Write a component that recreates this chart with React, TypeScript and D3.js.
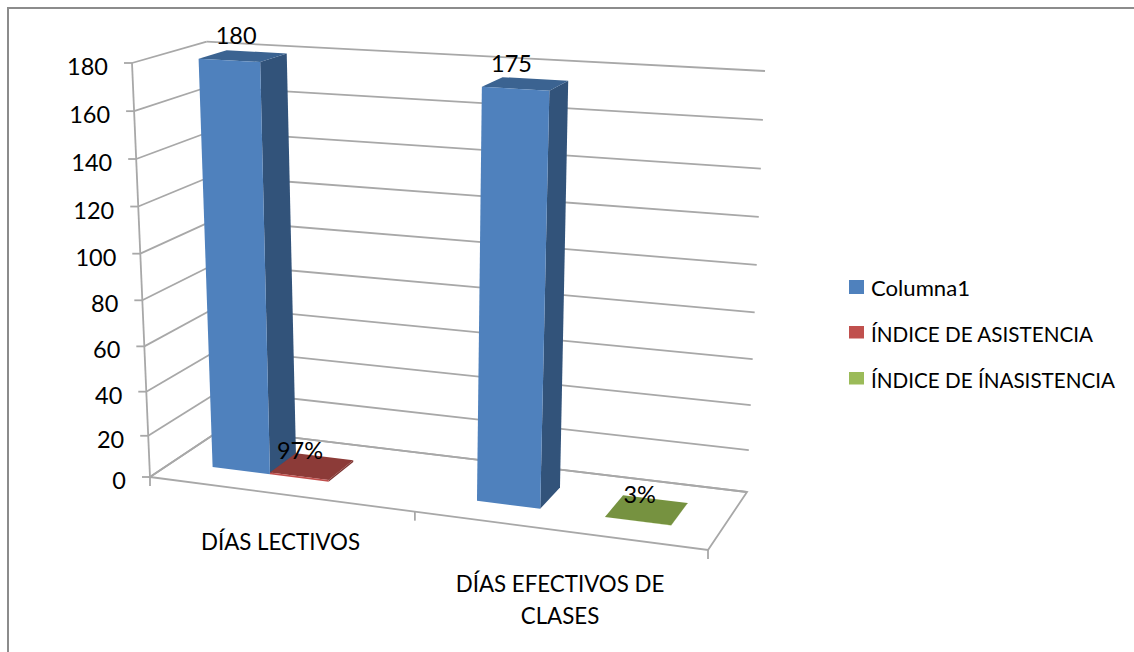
import React from "react";
import * as d3 from "d3";

const categories = ["DÍAS LECTIVOS", "DÍAS EFECTIVOS DE CLASES"];
const seriesNames = ["Columna1", "ÍNDICE DE ASISTENCIA", "ÍNDICE DE ÍNASISTENCIA"];
const columna1 = [180, 175];
const asistencia = [0.97, null];
const inasistencia = [null, 0.03];
const valueLabels = [["180", "97%", null], ["175", null, "3%"]];
const yTicks = d3.range(0, 181, 20);

type P = [number, number];
// corners of the plot box: front-left, front-right, back-right, back-left
const floorQuad: P[] = [[150, 477], [708, 550], [747, 492], [222, 429]];
const topQuad: P[] = [[132, 63], [731, 97], [765, 71], [206.7, 41.7]];

function homography(q: P[]) {
  const [[x0, y0], [x1, y1], [x2, y2], [x3, y3]] = q;
  const dx1 = x1 - x2, dx2 = x3 - x2, sx = x0 - x1 + x2 - x3;
  const dy1 = y1 - y2, dy2 = y3 - y2, sy = y0 - y1 + y2 - y3;
  const den = dx1 * dy2 - dx2 * dy1;
  const g = (sx * dy2 - dx2 * sy) / den;
  const h = (dx1 * sy - sx * dy1) / den;
  const a = x1 - x0 + g * x1, b = x3 - x0 + h * x3;
  const d = y1 - y0 + g * y1, e = y3 - y0 + h * y3;
  return (u: number, v: number): P => {
    const w = g * u + h * v + 1;
    return [(a * u + b * v + x0) / w, (d * u + e * v + y0) / w];
  };
}
const floorH = homography(floorQuad);
const topH = homography(topQuad);
const vScale = d3.scalePow().exponent(1.05).domain([0, 180]).range([0, 1]);
const project = (u: number, d: number, v: number): P => {
  const a = floorH(u, d), b = topH(u, d), t = vScale(v);
  return [a[0] + (b[0] - a[0]) * t, a[1] + (b[1] - a[1]) * t];
};

const catScale = d3.scaleBand<number>().domain([0, 1]).range([0, 1]);
const serScale = d3.scaleBand<number>().domain([0, 1, 2]).range([0.08, 0.418]);
const depthFront = 0.3, depthBack = 0.69;

const poly = (pts: P[]) => (d3.line()(pts) as string) + "Z";
const seg = (a: P, b: P) => d3.line()([a, b]) as string;

const colors = { front: ["#4F81BD", "#C0504D", "#9BBB59"], side: ["#31527A", "#7D3431", "#647A39"], top: ["#3A6391", "#8C3A37", "#76923F"] };
const values = [columna1, asistencia, inasistencia];
const grid = "#A8A8A8";
const font = "Lato, Carlito, sans-serif";
const legendWidths = [99, 222, 244];
const labelDx = [[-7, -12, 0], [-14, 0, -7]];

export default function App() {
  const bars: any[] = [];
  categories.forEach((_, ci) => {
    values.forEach((vals, si) => {
      const val = vals[ci];
      if (val == null) return;
      const u0 = catScale(ci)! + serScale(si)!;
      const u1 = u0 + serScale.bandwidth();
      bars.push({ ci, si, val, u0, u1 });
    });
  });
  return (
    <svg width={1134} height={652} style={{ position: "absolute", left: 0, top: 0, background: "#fff" }}>
      <defs>
        <filter id="soft" x="-5%" y="-5%" width="110%" height="110%"><feGaussianBlur stdDeviation="0.55" /></filter>
      </defs>
      <path d="M8,652V8H1134" fill="none" stroke="#8C8C8C" strokeWidth={2} />
      <g filter="url(#soft)">
        {yTicks.map((t) => (
          <g key={t}>
            <path d={seg(project(0, 0, t), project(0, 1, t))} stroke={grid} strokeWidth={1.8} fill="none" />
            <path d={seg(project(0, 1, t), project(1, 1, t))} stroke={grid} strokeWidth={1.8} fill="none" />
            <path d={seg([project(0, 0, t)[0] - 8, project(0, 0, t)[1]], project(0, 0, t))} stroke={grid} strokeWidth={1.8} />
          </g>
        ))}
        <path d={seg(project(0, 0, 0), project(0, 0, 180))} stroke={grid} strokeWidth={1.8} />
        <path d={poly([project(0, 0, 0), project(1, 0, 0), project(1, 1, 0), project(0, 1, 0)])} fill="none" stroke={grid} strokeWidth={1.8} />
        {[0, 0.5, 1].map((u) => {
          const p = project(u, 0, 0);
          return <path key={u} d={seg(p, [p[0], p[1] + 9])} stroke={grid} strokeWidth={1.8} />;
        })}
        {bars.map((b) => {
          const { u0, u1, si, val } = b;
          const p = (u: number, d: number, v: number) => project(u, d, v);
          return (
            <g key={`${b.ci}-${si}`}>
              <path d={poly([p(u1, depthFront, 0), p(u1, depthBack, 0), p(u1, depthBack, val), p(u1, depthFront, val)])} fill={colors.side[si]} />
              <path d={poly([p(u0, depthFront, val), p(u1, depthFront, val), p(u1, depthBack, val), p(u0, depthBack, val)])} fill={colors.top[si]} />
              <path d={poly([p(u0, depthFront, 0), p(u1, depthFront, 0), p(u1, depthFront, val), p(u0, depthFront, val)])} fill={colors.front[si]} />
            </g>
          );
        })}
      </g>
      {yTicks.map((t) => {
        const p = project(0, 0, t);
        return (
          <text key={t} x={p[0] - 24} y={p[1] + 12} textAnchor="end" fontFamily={font} fontSize={23.5} fill="#000">{t}</text>
        );
      })}
      {bars.map((b) => {
        const label = valueLabels[b.ci][b.si];
        if (!label) return null;
        const p = project((b.u0 + b.u1) / 2, (depthFront + depthBack) / 2, b.val);
        return (
          <text key={label} x={p[0] + labelDx[b.ci][b.si]} y={p[1] + (b.si === 0 ? -12 : -7)} textAnchor="middle" fontFamily={font} fontSize={23.5} fill="#000">{label}</text>
        );
      })}
      <text x={280.5} y={550} textAnchor="middle" fontFamily={font} fontSize={22.3} fill="#000">{categories[0]}</text>
      <text textAnchor="middle" fontFamily={font} fontSize={22.3} fill="#000">
        <tspan x={560} y={592}>DÍAS EFECTIVOS DE</tspan>
        <tspan x={560} y={624}>CLASES</tspan>
      </text>
      {seriesNames.map((n, i) => {
        const y = d3.scaleLinear().domain([0, 2]).range([280, 372])(i);
        return (
          <g key={n}>
            <rect x={849} y={y} width={15} height={i === 0 ? 14 : 12.5} fill={colors.front[i]} />
            <text x={871} y={y + 16} fontFamily={font} fontSize={20.5} textLength={legendWidths[i]} lengthAdjust="spacingAndGlyphs" fill="#000">{n}</text>
          </g>
        );
      })}
    </svg>
  );
}
